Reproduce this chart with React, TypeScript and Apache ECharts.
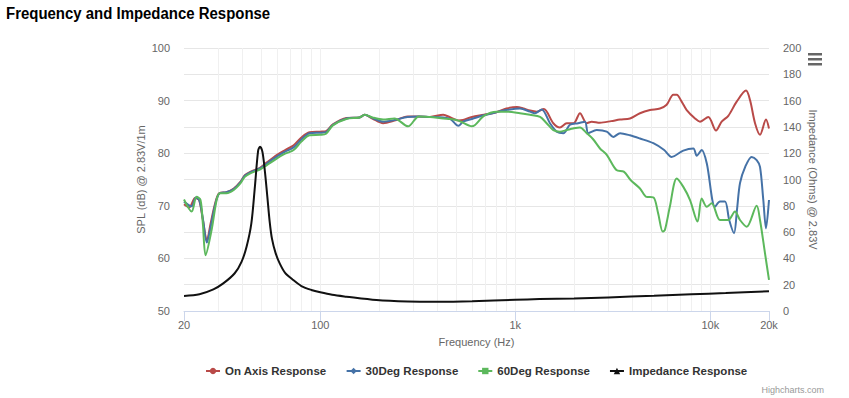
import React, { useEffect, useRef } from 'react';
import * as echarts from 'echarts';

// [frequency Hz, SPL dB]
const onAxis: [number, number][] = [
  [20, 70.3], [21.3, 69.7], [22.8, 71.5], [23.9, 71.1], [25, 67.3], [26.2, 63.4], [27.4, 66.7], [28.9, 70.5],
  [30.3, 72.4], [33, 72.6], [36, 73.3], [39, 74.6], [41, 75.8], [44, 76.5], [49, 77.2], [53, 78.2], [60, 79.7],
  [66, 80.6], [73, 81.5], [80, 83.0], [88, 84.0], [100, 84.1], [107, 84.2], [116, 85.5], [136, 86.7], [159, 86.8],
  [169, 87.3], [185, 86.6], [210, 85.7], [240, 86.2], [280, 87.0], [320, 87.0], [365, 86.9], [427, 87.3],
  [465, 86.8], [511, 86.2], [540, 86.3], [600, 86.9], [690, 87.3], [800, 87.8], [900, 88.5], [1020, 88.8],
  [1100, 88.5], [1190, 88.1], [1290, 87.9], [1400, 88.4], [1566, 85.7], [1694, 84.9], [1836, 85.7], [1990, 85.7],
  [2146, 87.6], [2324, 85.7], [2466, 86.0], [2718, 85.8], [3100, 86.1], [3444, 86.4], [3874, 86.6], [4358, 87.6],
  [4906, 88.2], [5520, 88.5], [5972, 89.2], [6460, 91.1], [6726, 91.1], [7130, 89.8], [7568, 88.2], [8350, 86.6],
  [8852, 86.0], [9770, 86.9], [10700, 84.3], [11436, 86.0], [12368, 87.1], [13654, 89.8], [15248, 91.9],
  [15986, 90.1], [16960, 85.7], [17986, 83.5], [19300, 86.4], [20000, 84.7],
];

const deg30: [number, number][] = [
  [20, 70.8], [21.9, 69.9], [23, 71.6], [24, 71.0], [25, 67.5], [26.2, 63.0], [27.4, 66.0], [28.9, 70.2],
  [30.3, 72.3], [33, 72.6], [36, 73.2], [39, 74.5], [41, 75.7], [44, 76.4], [49, 77.1], [53, 78.0], [60, 79.4],
  [66, 80.3], [73, 81.1], [80, 82.6], [88, 83.8], [100, 83.9], [107, 84.0], [116, 85.4], [136, 86.6], [159, 86.8],
  [169, 87.3], [185, 86.7], [210, 86.0], [240, 86.3], [280, 86.9], [320, 87.0], [365, 86.9], [427, 86.8],
  [465, 86.5], [511, 85.2], [540, 86.0], [600, 86.5], [690, 87.2], [800, 87.8], [900, 88.2], [1057, 88.5],
  [1190, 87.9], [1260, 87.6], [1366, 88.3], [1506, 85.7], [1630, 84.1], [1765, 83.8], [1907, 85.4], [2100, 85.7],
  [2276, 86.0], [2368, 83.8], [2614, 84.4], [2944, 84.1], [3180, 83.1], [3444, 83.8], [3874, 83.4], [4358, 82.8],
  [5104, 81.9], [5800, 80.6], [6334, 79.3], [7272, 80.5], [8186, 80.9], [8518, 79.5], [9032, 80.6], [9590, 78.1],
  [10572, 69.8], [11214, 70.8], [11894, 70.8], [12500, 67.3], [13236, 64.8], [13700, 69.2], [14200, 74.3],
  [15100, 77.4], [16300, 79.3], [17294, 78.7], [17986, 77.4], [18700, 71.1], [19300, 65.7], [20000, 71.1],
];

const deg60: [number, number][] = [
  [20, 71.2], [21.9, 68.9], [23.2, 71.7], [24.3, 71.1], [25.0, 66.5], [25.8, 60.6], [27.7, 65.4], [29.4, 71.1],
  [30.5, 72.4], [33, 72.4], [36, 73.0], [39, 74.3], [41, 75.5], [44, 76.2], [49, 76.9], [53, 77.7], [60, 79.0],
  [66, 79.9], [73, 80.6], [80, 82.2], [88, 83.4], [100, 83.5], [107, 83.7], [116, 85.3], [136, 86.5], [159, 86.8],
  [169, 87.3], [185, 86.8], [210, 86.4], [240, 86.6], [282, 85.1], [320, 87.0], [365, 86.9], [427, 86.6],
  [465, 86.5], [511, 86.2], [600, 85.1], [690, 87.1], [800, 87.9], [900, 87.9], [1057, 87.6], [1190, 87.3],
  [1340, 86.9], [1448, 85.7], [1566, 84.4], [1694, 84.1], [1836, 84.4], [1980, 84.7], [2146, 84.9], [2324, 83.8],
  [2500, 82.7], [2718, 80.9], [2944, 79.7], [3300, 76.8], [3600, 76.5], [3900, 74.9], [4358, 73.3], [4700, 71.7],
  [5104, 71.6], [5400, 68.6], [5700, 65.1], [5850, 65.4], [6200, 69.8], [6726, 75.2], [7272, 73.6], [7872, 71.1],
  [8600, 67.0], [9032, 71.4], [9590, 69.8], [10166, 70.5], [11214, 67.3], [12368, 67.3], [13386, 68.9],
  [14200, 67.3], [15372, 66.0], [17294, 70.0], [17986, 67.3], [19072, 61.0], [20000, 55.9],
];

// [frequency Hz, impedance Ohms]
const impedance: [number, number][] = [
  [20, 11.5], [24, 12.8], [28.3, 16.5], [31.8, 21], [36.4, 28.7], [39.5, 37.6], [41.9, 49], [44.3, 66.6],
  [46.2, 94.6], [48, 122], [49.1, 125], [50.5, 121], [52, 106], [53.5, 87], [55, 68], [56.5, 55], [59, 44],
  [62, 36], [66, 29], [72, 24], [80, 19], [90, 16], [100, 14.2], [115, 12.3], [136, 10.9], [194, 8.3],
  [281, 7.2], [400, 7.0], [600, 7.4], [1000, 8.5], [1330, 9.1], [2000, 9.5], [3000, 10.3], [5140, 11.6],
  [8000, 12.7], [12000, 13.6], [20000, 15],
];

const chartTitle = 'Frequency and Impedance Response';
const seriesNames = ['On Axis Response', '30Deg Response', '60Deg Response', 'Impedance Response'];
const seriesColors = ['#b94a48', '#4572a7', '#5cb85c', '#111111'];
const seriesSymbols = ['circle', 'diamond', 'rect', 'triangle'];
const freqGridLines = [30, 40, 50, 60, 70, 80, 90, 100, 200, 300, 400, 500, 600, 700, 800, 900, 1000,
  2000, 3000, 4000, 5000, 6000, 7000, 8000, 9000, 10000];

export default function App() {
  const ref = useRef<HTMLDivElement>(null);
  useEffect(() => {
    document.body.style.margin = '0';
    const chart = echarts.init(ref.current!, null, { renderer: 'svg' });
    const font = "'Liberation Sans', Arial, sans-serif";
    const datasets = [onAxis, deg30, deg60, impedance];
    chart.setOption({
      animation: false,
      textStyle: { fontFamily: font },
      legend: {
        data: seriesNames,
        left: 200,
        top: 360,
        itemWidth: 14,
        itemHeight: 8,
        itemGap: 19,
        textStyle: { fontSize: 11.5, fontWeight: 'bold', color: '#333', fontFamily: font },
      },
      grid: { left: 184, right: 80, top: 48, bottom: 87 },
      xAxis: {
        type: 'log',
        logBase: 10,
        min: 20,
        max: 20000,
        name: 'Frequency (Hz)',
        nameLocation: 'middle',
        nameGap: 25,
        nameMoveOverlap: false,
        nameTextStyle: { color: '#666', fontSize: 11, fontFamily: font },
        axisLine: { lineStyle: { color: '#ccd6eb' } },
        axisTick: { show: true, length: 10, lineStyle: { color: '#ccd6eb' } },
        axisLabel: {
          color: '#666',
          fontSize: 11,
          margin: 8,
          showMinLabel: true,
          showMaxLabel: true,
          formatter: (v: number) => {
            const r = Math.round(v);
            return r >= 1000 ? r / 1000 + 'k' : String(r);
          },
        },
        splitLine: { show: false },
      },
      yAxis: [
        {
          type: 'value',
          min: 50,
          max: 100,
          interval: 10,
          position: 'left',
          name: 'SPL (dB) @ 2.83V/1m',
          nameLocation: 'middle',
          nameRotate: 90,
          nameGap: 38,
          nameMoveOverlap: false,
          nameTextStyle: { color: '#666', fontSize: 11, fontFamily: font },
          axisLine: { show: false },
          axisTick: { show: false },
          axisLabel: { color: '#666', fontSize: 11, margin: 14 },
          splitLine: { show: false },
        },
        {
          type: 'value',
          min: 0,
          max: 200,
          interval: 20,
          position: 'right',
          name: 'Impedance (Ohms) @ 2.83V',
          nameLocation: 'middle',
          nameRotate: -90,
          nameGap: 38,
          nameMoveOverlap: false,
          nameTextStyle: { color: '#666', fontSize: 11, fontFamily: font },
          axisLine: { show: false },
          axisTick: { show: false },
          axisLabel: { color: '#666', fontSize: 11, margin: 14 },
          splitLine: { show: true, lineStyle: { color: '#e6e6e6', width: 1 } },
        },
      ],
      series: datasets.map((d, i) => ({
        type: 'line',
        name: seriesNames[i],
        data: d,
        yAxisIndex: i === 3 ? 1 : 0,
        smooth: 0.3,
        showSymbol: false,
        symbol: seriesSymbols[i],
        symbolSize: 8,
        lineStyle: { width: 2, color: seriesColors[i] },
        itemStyle: { color: seriesColors[i] },
        emphasis: { disabled: true },
        silent: true,
        markLine: i === 0 ? {
          silent: true,
          z: 1,
          symbol: ['none', 'none'],
          label: { show: false },
          lineStyle: { color: '#f0f0f0', width: 1, type: 'solid' },
          emphasis: { disabled: true },
          data: freqGridLines.map((f) => ({ xAxis: f })),
        } : undefined,
      })),
      graphic: [
        {
          type: 'text',
          x: 6,
          y: 5,
          scaleX: 0.88,
          style: {
            text: chartTitle,
            fill: '#000',
            fontSize: 17,
            fontWeight: 'bold',
            fontFamily: font,
            textVerticalAlign: 'top',
          },
        },
        { type: 'rect', left: 808, top: 53, shape: { width: 14, height: 2.5 }, style: { fill: '#666' } },
        { type: 'rect', left: 808, top: 58, shape: { width: 14, height: 2.5 }, style: { fill: '#666' } },
        { type: 'rect', left: 808, top: 63, shape: { width: 14, height: 2.5 }, style: { fill: '#666' } },
        {
          type: 'text',
          right: 25,
          bottom: 4,
          style: { text: 'Highcharts.com', fill: '#999', fontSize: 9, fontFamily: font },
        },
      ],
    });
    return () => chart.dispose();
  }, []);
  return <div ref={ref} style={{ width: 849, height: 398 }} />;
}
